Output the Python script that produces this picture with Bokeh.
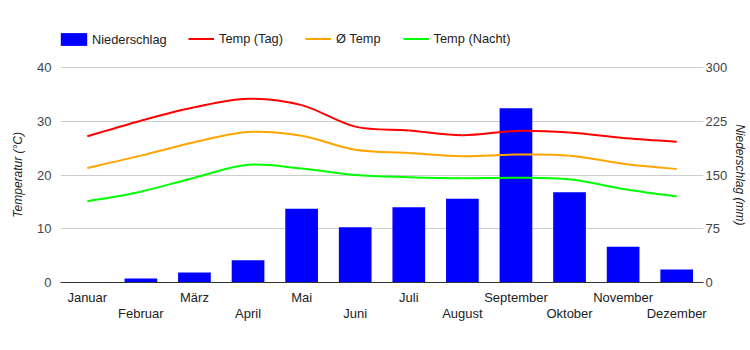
import numpy as np
from bokeh.plotting import figure
from bokeh.models import Range1d, LinearAxis, FixedTicker, Legend, LegendItem
from bokeh.embed import file_html
from bokeh.resources import INLINE

months = ["Januar", "Februar", "März", "April", "Mai", "Juni", "Juli",
          "August", "September", "Oktober", "November", "Dezember"]
precip = [0.5, 5.6, 14, 31, 103, 77, 105, 117, 243, 126, 50, 18]
temp_day = [27.2, 30.1, 32.6, 34.2, 33.0, 29.0, 28.3, 27.4, 28.2, 27.9, 26.9, 26.2]
temp_avg = [21.3, 23.6, 26.1, 28.0, 27.3, 24.7, 24.1, 23.5, 23.8, 23.6, 22.1, 21.1]
temp_night = [15.1, 16.9, 19.5, 21.9, 21.2, 20.0, 19.6, 19.4, 19.5, 19.2, 17.4, 16.0]
temp_ticks = [0, 10, 20, 30, 40]
mm_ticks = [0, 75, 150, 225, 300]

FONT = "Liberation Sans"
x = list(range(len(months)))
PAD = "\u00a0" * 14  # keeps axis titles centred on the 0..40 region

# layout: frame spans y 20..282; the value range 0..40 covers 282..67
W, H = 750, 350
TOP, BOTTOM = 20, 68
frame_h = H - TOP - BOTTOM
scale = frame_h / 215.0
t_max = temp_ticks[-1] * scale
mm_max = mm_ticks[-1] * scale

p = figure(width=W, height=H, x_range=Range1d(-0.5, len(months) - 0.5),
           y_range=Range1d(0, t_max), output_backend="svg", toolbar_location=None,
           min_border_left=60, min_border_right=46, min_border_top=TOP,
           min_border_bottom=BOTTOM)
p.outline_line_color = None
p.background_fill_color = "white"
p.xgrid.visible = False
p.ygrid.ticker = FixedTicker(ticks=temp_ticks)
p.ygrid.grid_line_color = "#cccccc"

# left axis
ya = p.yaxis[0]
ya.ticker = FixedTicker(ticks=temp_ticks)
ya.axis_line_color = None
ya.major_tick_line_color = None
ya.minor_tick_line_color = None
ya.major_label_standoff = 3
ya.major_label_text_font = FONT
ya.major_label_text_font_size = "13px"
ya.major_label_text_color = "#444444"
ya.axis_label = "Temperatur (°C)" + PAD
ya.axis_label_text_font = FONT
ya.axis_label_text_font_size = "12px"
ya.axis_label_text_font_style = "italic"
ya.axis_label_text_color = "#222222"
ya.axis_label_standoff = 9

# right axis
p.extra_y_ranges = {"mm": Range1d(0, mm_max)}
yr = LinearAxis(y_range_name="mm", ticker=FixedTicker(ticks=mm_ticks))
yr.axis_line_color = None
yr.major_tick_line_color = None
yr.minor_tick_line_color = None
yr.major_tick_out = 0
yr.major_label_standoff = 2
yr.major_label_text_font = FONT
yr.major_label_text_font_size = "13px"
yr.major_label_text_color = "#444444"
yr.axis_label = PAD + "Niederschlag (mm)"
yr.axis_label_text_font = FONT
yr.axis_label_text_font_size = "12px"
yr.axis_label_text_font_style = "italic"
yr.axis_label_text_color = "#222222"
yr.axis_label_standoff = 3
p.add_layout(yr, "right")

# bottom axis with staggered (two-row) labels
xa = p.xaxis[0]
xa.ticker = FixedTicker(ticks=x)
xa.major_label_overrides = {int(i): (months[i] if i % 2 == 0 else "\n" + months[i]) for i in x}
xa.axis_line_color = "#333333"
xa.axis_line_width = 1
xa.major_tick_line_color = None
xa.minor_tick_line_color = None
xa.major_label_standoff = 1
xa.major_label_text_font = FONT
xa.major_label_text_font_size = "13px"
xa.major_label_text_color = "#222222"
xa.major_label_text_line_height = 1.1

# bars
bars = p.vbar(x=x, top=precip, width=0.61, y_range_name="mm",
              fill_color="#0000ff", line_color=None)

# smooth curves (Catmull-Rom as cubic Bezier)
def bez(vals):
    n = len(vals)
    P = [(float(x[i]), float(vals[i])) for i in range(n)]
    def pt(i):
        return P[min(max(i, 0), n - 1)]
    d = dict(x0=[], y0=[], x1=[], y1=[], cx0=[], cy0=[], cx1=[], cy1=[])
    for i in range(n - 1):
        a, b = pt(i), pt(i + 1)
        pa, nb = pt(i - 1), pt(i + 2)
        d["x0"].append(a[0]); d["y0"].append(a[1])
        d["x1"].append(b[0]); d["y1"].append(b[1])
        d["cx0"].append(a[0] + (b[0] - pa[0]) / 6)
        d["cy0"].append(a[1] + (b[1] - pa[1]) / 6)
        d["cx1"].append(b[0] - (nb[0] - a[0]) / 6)
        d["cy1"].append(b[1] - (nb[1] - a[1]) / 6)
    return d

r_day = p.bezier(**bez(temp_day), line_color="#ff0000", line_width=2)
r_avg = p.bezier(**bez(temp_avg), line_color="#ffa500", line_width=2)
r_night = p.bezier(**bez(temp_night), line_color="#00ff00", line_width=2)

def style_legend(lg):
    lg.padding = 0
    lg.margin = 0
    lg.border_line_color = None
    lg.background_fill_alpha = 0
    lg.label_text_font = FONT
    lg.label_text_font_size = "12.8px"
    lg.label_text_color = "#222222"
    lg.label_height = 13

# bar legend (area glyphs are drawn inset by 10% of the glyph box)
leg_bar = Legend(items=[LegendItem(label="Niederschlag", renderers=[bars])],
                 location=(-3, 235), orientation="horizontal")
leg_bar.glyph_width = 33
leg_bar.glyph_height = 16
leg_bar.label_standoff = 2
style_legend(leg_bar)
p.add_layout(leg_bar)

leg_lines = Legend(items=[
    LegendItem(label="Temp (Tag)", renderers=[r_day]),
    LegendItem(label="Ø Temp", renderers=[r_avg]),
    LegendItem(label="Temp (Nacht)", renderers=[r_night]),
], location=(128, 236), orientation="horizontal")
leg_lines.glyph_width = 26
leg_lines.glyph_height = 13
leg_lines.label_standoff = 5
leg_lines.spacing = 22
style_legend(leg_lines)
p.add_layout(leg_lines)

open("out.html", "w").write(file_html(p, INLINE))
